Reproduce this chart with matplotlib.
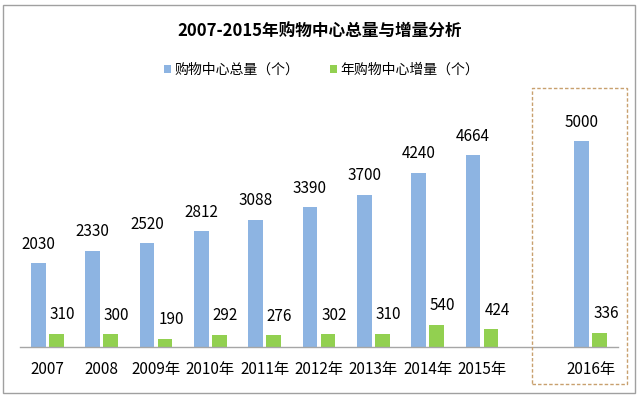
import matplotlib
matplotlib.use("Agg")
import numpy as np
import matplotlib.pyplot as plt
from matplotlib.patches import Rectangle

plt.rcParams['font.family'] = ['Noto Sans CJK SC', 'DejaVu Sans']

# data
years = ["2007", "2008", "2009年", "2010年", "2011年", "2012年", "2013年",
         "2014年", "2015年", "2016年"]
total = [2030, 2330, 2520, 2812, 3088, 3390, 3700, 4240, 4664, 5000]
added = [310, 300, 190, 292, 276, 302, 310, 540, 424, 336]

blue = '#8DB4E2'
green = '#92D050'

W, H = 640, 398
fig = plt.figure(figsize=(W / 100, H / 100), dpi=100)

# 2016 is set apart by one empty slot
pos = np.array(list(range(9)) + [10])

ax = fig.add_axes([20 / W, (H - 346.7) / H, (618 - 20) / W, 246.5 / H])
bw = 0.27
off = 9 / 54.35
b1 = ax.bar(pos - off, total, bw, color=blue, label='购物中心总量（个）')
b2 = ax.bar(pos + off, added, bw, color=green, label='年购物中心增量（个）')

for x, v in zip(pos, total):
    ax.annotate(str(v), (x - off, v), xytext=(0, 13.7), textcoords='offset points',
                ha='center', va='center', fontsize=11)
for x, v in zip(pos, added):
    ax.annotate(str(v), (x + off, v), xytext=(4.3, 13.7), textcoords='offset points',
                ha='center', va='center', fontsize=11)

ax.set_xlim(-0.5, 10.5)
ax.set_ylim(0, 6000)
ax.set_yticks([])
ax.set_xticks(pos)
ax.set_xticklabels(years, fontsize=11)
ax.tick_params(axis='x', length=0, pad=10)
for s in ['top', 'left', 'right']:
    ax.spines[s].set_visible(False)
ax.spines['bottom'].set_color('#A6A6A6')
ax.spines['bottom'].set_linewidth(1)

fig.text(320 / W, 1 - 32 / H, '2007-2015年购物中心总量与增量分析',
         ha='center', va='center', fontsize=12, fontweight='bold')

fig.legend(handles=[b1, b2], loc='center', bbox_to_anchor=(322 / W, 1 - 70 / H),
           ncol=2, frameon=False, fontsize=10, handlelength=0.45, handleheight=0.45,
           handletextpad=0.3, columnspacing=2.2)

# outer frame and dashed box around 2016
fig.patches.append(Rectangle((3 / W, (H - 393) / H), 632 / W, 388 / H,
                             transform=fig.transFigure, fill=False,
                             edgecolor='#A0A0A0', linewidth=1))
fig.patches.append(Rectangle((532 / W, (H - 384) / H), 95 / W, 296 / H,
                             transform=fig.transFigure, fill=False,
                             edgecolor='#C8A06E', linewidth=1, linestyle=(0, (2.5, 1.5))))

fig.savefig('out.png', dpi=100)
